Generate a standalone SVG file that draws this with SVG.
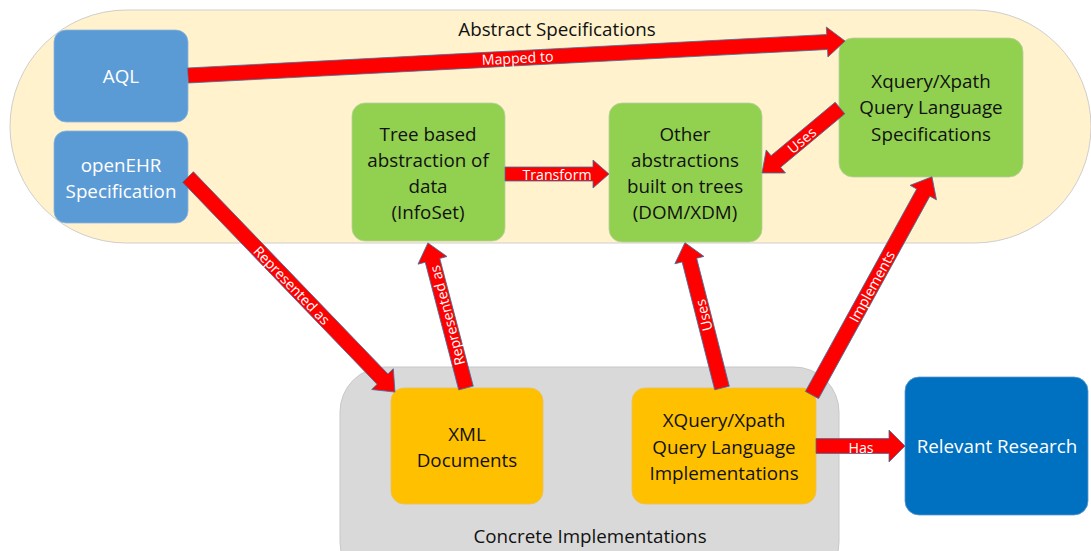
<svg xmlns="http://www.w3.org/2000/svg" width="1091" height="551" viewBox="0 0 1091 551">
<style>
.node text{font-family:"Open Sans","Liberation Sans",sans-serif;font-size:18.8px;text-anchor:middle;fill:#111}
.wt text{fill:#fff}
.arr path{fill:#FF0000;stroke:#41719C;stroke-width:0.8}
.arr text{font-family:"Open Sans","Liberation Sans",sans-serif;font-size:14.2px;fill:#fff;text-anchor:middle;dominant-baseline:central}
.cont text{font-family:"Open Sans","Liberation Sans",sans-serif;font-size:18.8px;text-anchor:middle;fill:#111}
</style>
<rect width="1091" height="551" fill="#fff"/>
<g id="abstract-specifications" class="cont">
<rect x="10" y="10" width="1081" height="233" rx="116.5" fill="#FFF2CC" stroke="#D0CECE" stroke-width="1"/>
<text x="557" y="36">Abstract Specifications</text>
</g>
<g id="concrete-implementations" class="cont">
<rect x="340" y="367" width="499" height="220" rx="45" fill="#D9D9D9" stroke="#C8C8C8" stroke-width="1"/>
<text x="590" y="543">Concrete Implementations</text>
</g>
<g id="aql" class="node wt">
<rect x="54" y="30" width="134" height="92" rx="12" fill="#5B9BD5" stroke="#8DB5DD" stroke-width="0.8"/>
<text x="121" y="83">AQL</text>
</g>
<g id="openehr" class="node wt">
<rect x="54" y="131" width="134" height="92" rx="12" fill="#5B9BD5" stroke="#8DB5DD" stroke-width="0.8"/>
<text x="121" y="172">openEHR</text>
<text x="121" y="198">Specification</text>
</g>
<g id="tree-abstraction" class="node">
<rect x="352" y="103" width="153" height="138" rx="13" fill="#92D050" stroke="#B7CFA0" stroke-width="0.8"/>
<text x="428" y="141">Tree based</text>
<text x="428" y="167">abstraction of</text>
<text x="428" y="193">data</text>
<text x="428" y="219">(InfoSet)</text>
</g>
<g id="other-abstractions" class="node">
<rect x="609" y="103" width="153" height="139" rx="13" fill="#92D050" stroke="#B7CFA0" stroke-width="0.8"/>
<text x="685" y="141">Other</text>
<text x="685" y="167">abstractions</text>
<text x="685" y="193">built on trees</text>
<text x="685" y="219">(DOM/XDM)</text>
</g>
<g id="xquery-spec" class="node">
<rect x="839" y="38" width="184" height="139" rx="14" fill="#92D050" stroke="#B7CFA0" stroke-width="0.8"/>
<text x="931" y="88">Xquery/Xpath</text>
<text x="931" y="114">Query Language</text>
<text x="931" y="141">Specifications</text>
</g>
<g id="xml-documents" class="node">
<rect x="391" y="388" width="152" height="116" rx="13" fill="#FFC000" stroke="#E8C060" stroke-width="0.8"/>
<text x="467" y="441">XML</text>
<text x="467" y="467">Documents</text>
</g>
<g id="xquery-impl" class="node">
<rect x="632" y="388" width="184" height="116" rx="13" fill="#FFC000" stroke="#E8C060" stroke-width="0.8"/>
<text x="724" y="427">XQuery/Xpath</text>
<text x="724" y="454">Query Language</text>
<text x="724" y="480">Implementations</text>
</g>
<g id="relevant-research" class="node wt">
<rect x="905" y="377" width="183" height="138" rx="14" fill="#0070C0" stroke="#5A9AD0" stroke-width="0.8"/>
<text x="997" y="453">Relevant Research</text>
</g>
<g id="connectors" class="arr">
<g transform="translate(188,75.5) rotate(-3.0)">
<path d="M0,-7.5 H640 V-15 L658,0 L640,15 V7.5 H0 Z"/>
<text x="330" y="-0.5">Mapped to</text>
</g>
<g transform="translate(505,174)">
<path d="M0,-7 H88 V-14 L104,0 L88,14 V7 H0 Z"/>
<text x="52" y="0">Transform</text>
</g>
<g transform="translate(840,108) rotate(140.2)">
<path d="M0,-7.5 H83.5 V-15 L101.5,0 L83.5,15 V7.5 H0 Z"/>
<text x="50" y="0" transform="rotate(180 50 0)">Uses</text>
</g>
<g transform="translate(188,177) rotate(46.1)">
<path d="M0,-7.5 H280.5 V-15 L298.5,0 L280.5,15 V7.5 H0 Z"/>
<text x="150" y="0">Represented as</text>
</g>
<g transform="translate(466,388) rotate(-104.7)">
<path d="M0,-7.5 H132 V-15 L150,0 L132,15 V7.5 H0 Z"/>
<text x="75" y="0">Represented as</text>
</g>
<g transform="translate(722,388) rotate(-104.3)">
<path d="M0,-7.5 H132 V-15 L150,0 L132,15 V7.5 H0 Z"/>
<text x="75" y="0">Uses</text>
</g>
<g transform="translate(812,395) rotate(-61.2)">
<path d="M0,-7.5 H231 V-15 L249,0 L231,15 V7.5 H0 Z"/>
<text x="124" y="0">Implements</text>
</g>
<g transform="translate(816,446)">
<path d="M0,-7.5 H73 V-16 L89,0 L73,16 V7.5 H0 Z"/>
<text x="45" y="1">Has</text>
</g>
</g>
</svg>
